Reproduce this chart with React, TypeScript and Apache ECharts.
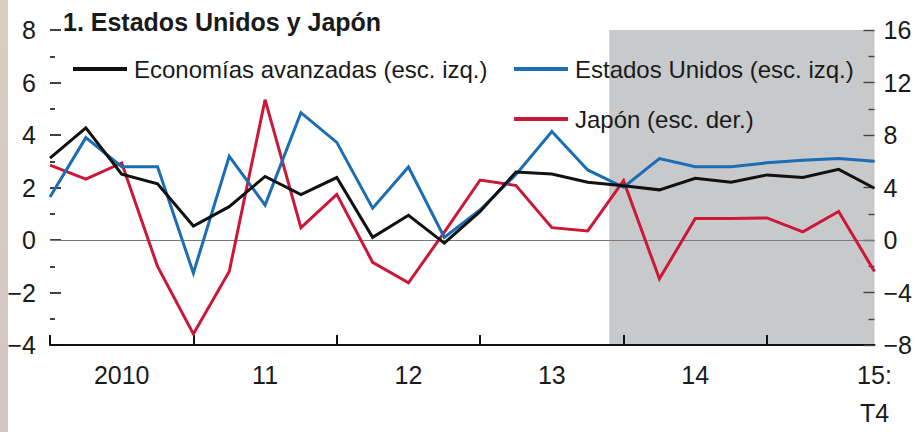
import React, { useEffect, useRef } from 'react';
import * as echarts from 'echarts';

// ---- Data ----
const quarters = [
  '2010:T1', '2010:T2', '2010:T3', '2010:T4',
  '2011:T1', '2011:T2', '2011:T3', '2011:T4',
  '2012:T1', '2012:T2', '2012:T3', '2012:T4',
  '2013:T1', '2013:T2', '2013:T3', '2013:T4',
  '2014:T1', '2014:T2', '2014:T3', '2014:T4',
  '2015:T1', '2015:T2', '2015:T3', '2015:T4',
];

const economiasAvanzadas = [
  3.12, 4.27, 2.51, 2.14, 0.53, 1.27, 2.42, 1.73, 2.38, 0.1, 0.94, -0.12,
  1.09, 2.59, 2.51, 2.2, 2.07, 1.91, 2.35, 2.2, 2.48, 2.38, 2.69, 1.97,
];

const estadosUnidos = [
  1.64, 3.9, 2.79, 2.79, -1.26, 3.19, 1.33, 4.85, 3.72, 1.21, 2.78, 0.1,
  1.15, 2.5, 4.13, 2.67, 2.01, 3.1, 2.79, 2.79, 2.94, 3.04, 3.1, 3.0,
];

// right-hand scale
const japon = [
  5.7, 4.64, 5.87, -2.02, -7.16, -2.4, 10.69, 0.94, 3.48, -1.7, -3.26, 0.6,
  4.57, 4.15, 0.94, 0.69, 4.52, -2.96, 1.63, 1.63, 1.68, 0.62, 2.17, -2.4,
];

const seriesNames = [
  'Economías avanzadas (esc. izq.)',
  'Estados Unidos (esc. izq.)',
  'Japón (esc. der.)',
];

const xLabelIndex = [2, 6, 10, 14, 18, 23];
const xLabelText = ['2010', '11', '12', '13', '14', '15:\nT4'];
const forecastStart = 15.6; // shaded projection region start (in quarter index units)

const titleText = '1. Estados Unidos y Japón';

const FONT = '"Liberation Sans", Arial, Helvetica, sans-serif';
const TXT = '#1a1a1a';
const BLACK = '#111111';
const BLUE = '#1b6db4';
const RED = '#cc1838';

const fmt = (v: number) => (v < 0 ? '\u2212' + Math.abs(v) : String(v));

export default function App() {
  const ref = useRef<HTMLDivElement>(null);

  useEffect(() => {
    if (!ref.current) return;
    const chart = echarts.init(ref.current, undefined, { renderer: 'svg' });

    const legendCommon = {
      orient: 'horizontal',
      padding: 0,
      itemWidth: 54,
      itemHeight: 4,
      itemGap: 0,
      icon: 'rect',
      selectedMode: false,
      textStyle: {
        fontSize: 24,
        color: TXT,
        fontFamily: FONT,
        padding: [5, 0, 0, 2],
      },
    };

    const option: any = {
      animation: false,
      backgroundColor: '#ffffff',
      textStyle: { fontFamily: FONT },
      title: {
        text: titleText,
        left: 63,
        top: 9,
        padding: 0,
        textStyle: { fontSize: 25, fontWeight: 'bold', color: TXT, fontFamily: FONT },
      },
      graphic: [
        {
          type: 'rect',
          left: 0,
          top: 0,
          silent: true,
          shape: { x: 0, y: 0, width: 8, height: 432 },
          style: {
            fill: {
              type: 'linear',
              x: 0, y: 0, x2: 0, y2: 1,
              colorStops: [
                { offset: 0, color: '#d8cfbf' },
                { offset: 1, color: '#d4c4c3' },
              ],
            },
          },
        },
      ],
      legend: [
        { ...legendCommon, data: [seriesNames[0]], left: 73, top: 57 },
        { ...legendCommon, data: [seriesNames[1]], left: 514, top: 57 },
        { ...legendCommon, data: [seriesNames[2]], left: 514, top: 107 },
      ],
      grid: { left: 50, right: 38, top: 30, bottom: 78, containLabel: false },
      xAxis: [
        {
          type: 'category',
          data: quarters,
          boundaryGap: false,
          axisLine: { show: true, onZero: false, lineStyle: { color: BLACK, width: 2 } },
          axisTick: {
            show: true,
            inside: true,
            length: 10,
            interval: (i: number) => i % 4 === 0 && i < quarters.length - 1,
            lineStyle: { color: BLACK, width: 2 },
          },
          axisLabel: {
            interval: (i: number) => xLabelIndex.indexOf(i) >= 0,
            formatter: (_v: string, i: number) => {
              const k = xLabelIndex.indexOf(i);
              return k >= 0 ? xLabelText[k] : '';
            },
            fontSize: 25,
            lineHeight: 38,
            margin: 11,
            color: TXT,
            fontFamily: FONT,
          },
          splitLine: { show: false },
        },
        {
          type: 'value',
          min: 0,
          max: quarters.length - 1,
          show: false,
        },
      ],
      yAxis: [
        {
          type: 'value',
          position: 'left',
          min: -4,
          max: 8,
          interval: 2,
          axisLine: { show: false },
          axisTick: { show: true, inside: true, length: 11, lineStyle: { color: BLACK, width: 1.6 } },
          minorTick: { show: true, splitNumber: 2, length: 5, lineStyle: { color: BLACK, width: 1.6 } },
          axisLabel: {
            formatter: fmt,
            fontSize: 25,
            color: TXT,
            margin: 14,
            padding: [5, 0, 0, 0],
            fontFamily: FONT,
          },
          splitLine: { show: false },
          minorSplitLine: { show: false },
        },
        {
          type: 'value',
          position: 'right',
          min: -8,
          max: 16,
          interval: 4,
          axisLine: { show: false },
          axisTick: { show: true, inside: true, length: 11, lineStyle: { color: '#444', width: 1.4 } },
          minorTick: { show: true, splitNumber: 2, length: 6, lineStyle: { color: '#444', width: 1.4 } },
          axisLabel: {
            formatter: fmt,
            fontSize: 25,
            color: TXT,
            margin: 9,
            fontFamily: FONT,
          },
          splitLine: { show: false },
          minorSplitLine: { show: false },
        },
      ],
      series: [
        {
          type: 'line',
          xAxisIndex: 1,
          yAxisIndex: 0,
          data: [],
          silent: true,
          symbol: 'none',
          markArea: {
            silent: true,
            z: 0,
            itemStyle: { color: '#c8c9cb' },
            data: [[{ xAxis: forecastStart }, { xAxis: quarters.length - 1 }]],
          },
          markLine: {
            silent: true,
            z: 1,
            symbol: 'none',
            label: { show: false },
            lineStyle: { color: '#7a7a7a', width: 1.2, type: 'solid' },
            data: [{ yAxis: 0 }],
          },
        },
        {
          name: seriesNames[2],
          type: 'line',
          data: japon,
          xAxisIndex: 0,
          yAxisIndex: 1,
          symbol: 'none',
          lineStyle: { color: RED, width: 3, join: 'miter' },
          itemStyle: { color: RED },
          z: 2,
        },
        {
          name: seriesNames[1],
          type: 'line',
          data: estadosUnidos,
          xAxisIndex: 0,
          yAxisIndex: 0,
          symbol: 'none',
          lineStyle: { color: BLUE, width: 3, join: 'miter' },
          itemStyle: { color: BLUE },
          z: 3,
        },
        {
          name: seriesNames[0],
          type: 'line',
          data: economiasAvanzadas,
          xAxisIndex: 0,
          yAxisIndex: 0,
          symbol: 'none',
          lineStyle: { color: BLACK, width: 3, join: 'miter' },
          itemStyle: { color: BLACK },
          z: 4,
        },
      ],
    };

    chart.setOption(option);
    return () => chart.dispose();
  }, []);

  return (
    <div
      ref={ref}
      style={{ position: 'fixed', left: 0, top: 0, width: 915, height: 432, background: '#fff' }}
    />
  );
}
